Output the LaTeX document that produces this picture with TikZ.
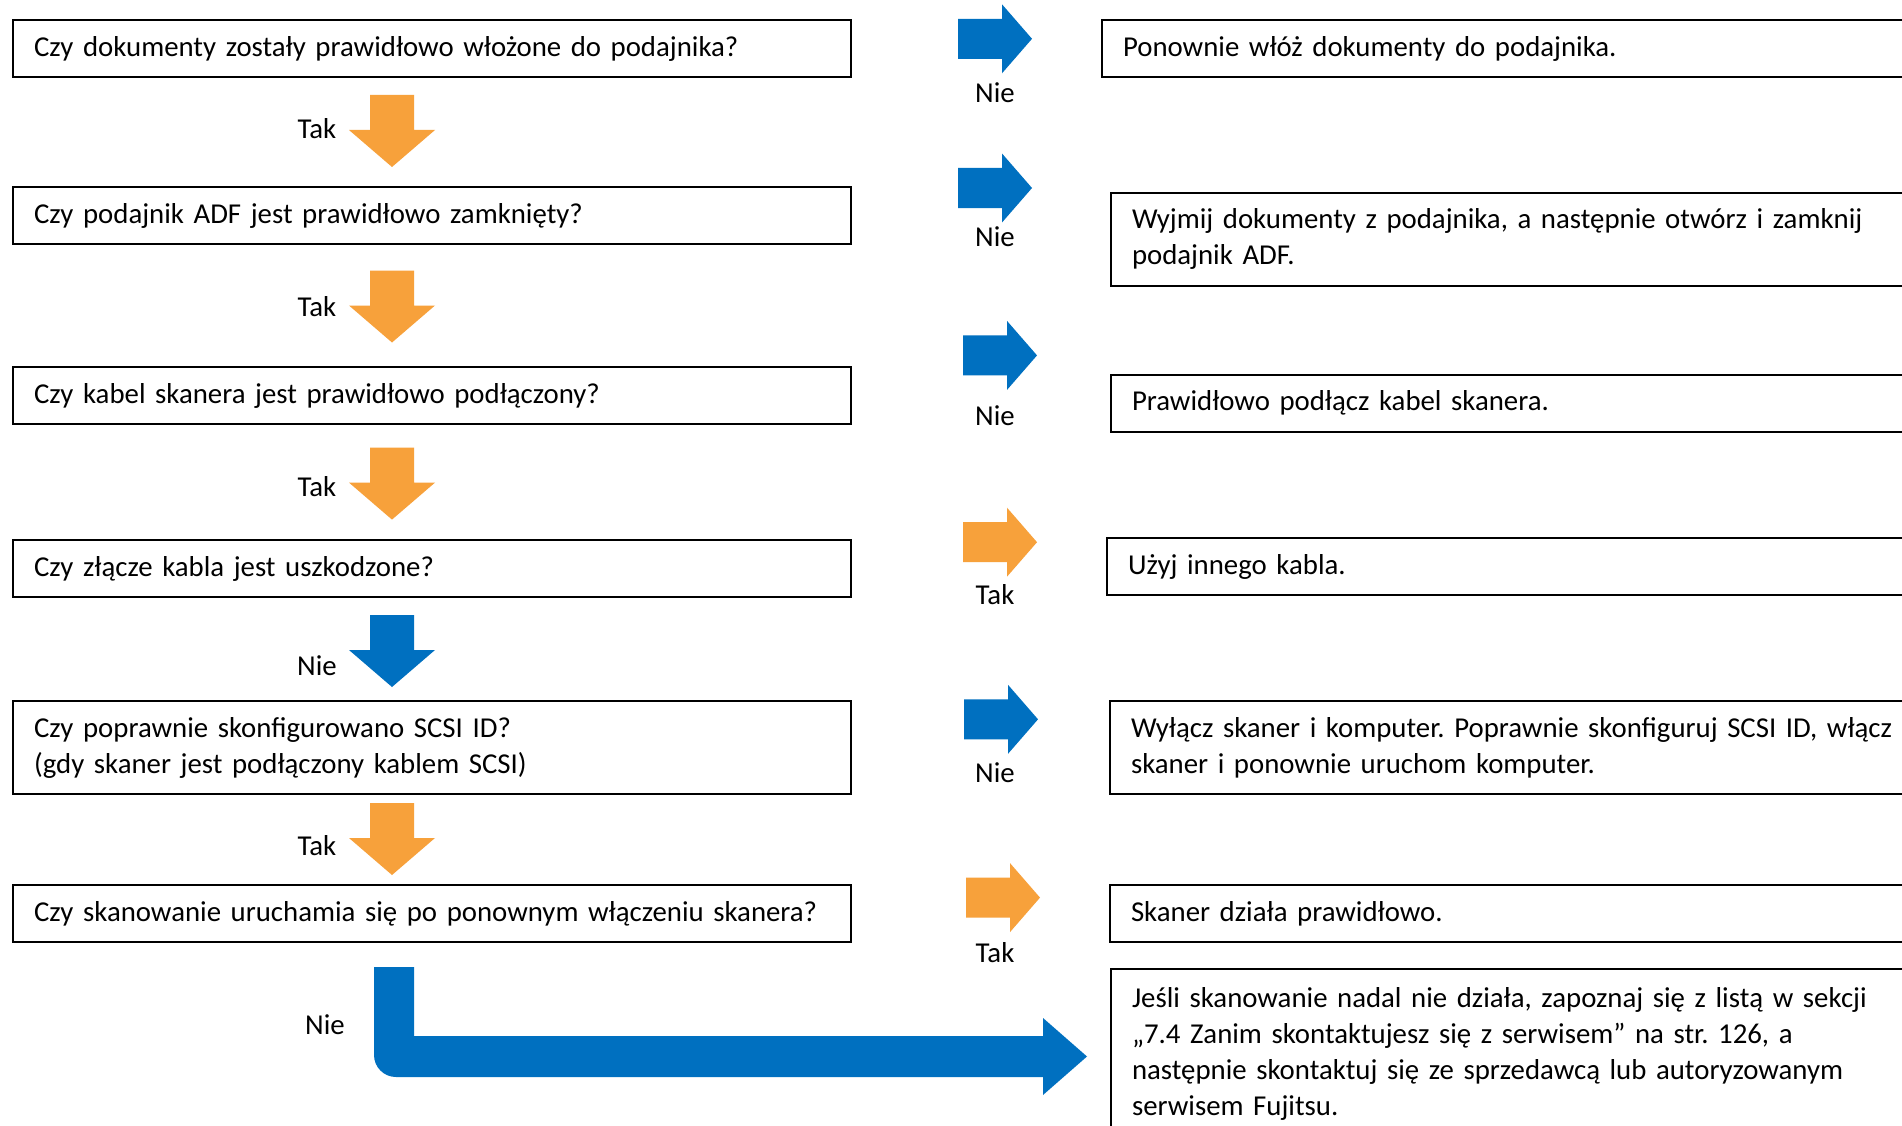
\documentclass[tikz,border=0pt]{standalone}
\usepackage{fontspec}
\setmainfont{Carlito}
\definecolor{yesorange}{RGB}{247,161,59}
\definecolor{noblue}{RGB}{0,112,192}
\frenchspacing
\begin{document}
\begin{tikzpicture}[x=1pt,y=-1pt,
  txt/.style={font=\fontsize{28.8}{36}\selectfont\frenchspacing},
  box/.style={txt, draw=black, line width=2pt, anchor=north west,
    inner xsep=21pt, inner ysep=0pt, align=left},
  lbox/.style={box, minimum width=838pt, text width=796pt},
  rbox/.style={box, minimum width=900pt, text width=858pt},
  one/.style={minimum height=57pt},
  two/.style={minimum height=93pt},
  lbl/.style={txt, inner sep=0pt},
  downarr/.pic={\fill[#1] (-22,0) -- (22,0) -- (22,35) -- (43,35) -- (0,72)
      -- (-43,35) -- (-22,35) -- cycle;},
  rightarr/.pic={\fill[#1] (0,-20) -- (44,-20) -- (44,-34.5) -- (74,0)
      -- (44,34.5) -- (44,20) -- (0,20) -- cycle;},
]
\fill[white] (0,0) rectangle (1902,1126);
\clip (0,0) rectangle (1902,1126);

% questions
\node[lbox,one] (q1) at (12,19) {Czy dokumenty zostały prawidłowo włożone do podajnika?};
\node[lbox,one] (q2) at (12,186) {Czy podajnik ADF jest prawidłowo zamknięty?};
\node[lbox,one] (q3) at (12,366) {Czy kabel skanera jest prawidłowo podłączony?};
\node[lbox,one] (q4) at (12,539) {Czy złącze kabla jest uszkodzone?};
\node[lbox,two] (q5) at (12,700) {Czy poprawnie skonfigurowano SCSI ID?\\(gdy skaner jest podłączony kablem SCSI)};
\node[lbox,one] (q6) at (12,884) {\mbox{Czy skanowanie uruchamia się po ponownym włączeniu skanera?}};

% remedies
\node[rbox,one] (r1) at (1101,19.4) {Ponownie włóż dokumenty do podajnika.};
\node[rbox,two] (r2) at (1110,191.7) {Wyjmij dokumenty z podajnika, a następnie otwórz i zamknij\\podajnik ADF.};
\node[rbox,one] (r3) at (1110,373.6) {Prawidłowo podłącz kabel skanera.};
\node[rbox,one] (r4) at (1106,537) {Użyj innego kabla.};
\node[rbox,two] (r5) at (1109,700) {Wyłącz skaner i komputer. Poprawnie skonfiguruj SCSI ID, włącz\\skaner i ponownie uruchom komputer.};
\node[rbox,one] (r6) at (1109,884) {Skaner działa prawidłowo.};
\node[rbox,minimum height=170pt] (r7) at (1110,968) {Jeśli skanowanie nadal nie działa, zapoznaj się z listą w sekcji\\„7.4 Zanim skontaktujesz się z serwisem” na str. 126, a\\następnie skontaktuj się ze sprzedawcą lub autoryzowanym\\serwisem Fujitsu.};

% downward arrows between questions
\pic (d1) at (392,95) {downarr=yesorange};
\pic (d2) at (392,270.5) {downarr=yesorange};
\pic (d3) at (392,447.6) {downarr=yesorange};
\pic (d4) at (392,615) {downarr=noblue};
\pic (d5) at (392,803) {downarr=yesorange};
\node[lbl] (t1) at (317,128.6) {Tak};
\node[lbl] (t2) at (317,307) {Tak};
\node[lbl] (t3) at (317,486.4) {Tak};
\node[lbl] (t4) at (317,666) {Nie};
\node[lbl] (t5) at (317,845.5) {Tak};

% sideways arrows towards remedies
\pic (s1) at (958,38.8) {rightarr=noblue};
\pic (s2) at (958,188) {rightarr=noblue};
\pic (s3) at (963,355.4) {rightarr=noblue};
\pic (s4) at (963,542.2) {rightarr=yesorange};
\pic (s5) at (964,719.3) {rightarr=noblue};
\pic (s6) at (966,897.6) {rightarr=yesorange};
\node[lbl] (n1) at (995,92.2) {Nie};
\node[lbl] (n2) at (995,236.5) {Nie};
\node[lbl] (n3) at (995,416) {Nie};
\node[lbl] (n4) at (995,594.4) {Tak};
\node[lbl] (n5) at (995,772.7) {Nie};
\node[lbl] (n6) at (995,952.2) {Tak};

% bent arrow from the last question to the final remedy
\fill[noblue] (374,967) -- (414,967) -- (414,1036) -- (1043,1036) -- (1043,1018)
  -- (1087,1056.5) -- (1043,1095) -- (1043,1077)
  [rounded corners=22pt] -- (374,1077) [sharp corners] -- cycle;
\node[lbl] (n7) at (325,1025) {Nie};
\end{tikzpicture}
\end{document}
